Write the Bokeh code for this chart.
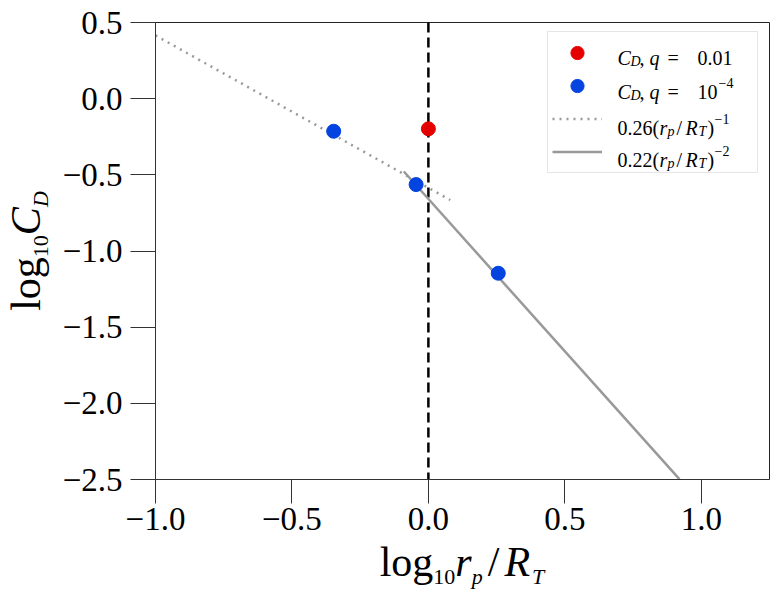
from bokeh.plotting import figure
from bokeh.models import (Range1d, FixedTicker, Span, Legend, LegendItem, Label, Div)
from bokeh.layouts import row, column
from bokeh.embed import file_html
from bokeh.resources import INLINE

# ---------------- data ----------------
x_ticks = [-1.0, -0.5, 0.0, 0.5, 1.0]
x_tick_labels = ["\u22121.0", "\u22120.5", "0.0", "0.5", "1.0"]
y_ticks = [-2.5, -2.0, -1.5, -1.0, -0.5, 0.0, 0.5]
y_tick_labels = ["\u22122.5", "\u22122.0", "\u22121.5", "\u22121.0", "\u22120.5", "0.0", "0.5"]

# C_D, q = 0.01
q001_x = [0.0]
q001_y = [-0.198]
# C_D, q = 1e-4
q1e4_x = [-0.347, -0.045, 0.256]
q1e4_y = [-0.214, -0.564, -1.146]

# 0.26 (r_p/R_T)^-1   (dotted)
fit1_x = [-1.0, 0.08]
fit1_y = [0.415, -0.665]
# 0.22 (r_p/R_T)^-2   (solid)
fit2_x = [-0.09, 0.92]
fit2_y = [-0.478, -2.498]

divider_x = 0.0

RED = "#e50000"
BLUE = "#0343df"
GRAY = "#999999"
FONT = "Liberation Serif"

YDIV_W = 50
P_W, P_H = 720, 546
XDIV_H = 46
FRAME_L = 155 - YDIV_W

p = figure(width=P_W, height=P_H, output_backend="svg", toolbar_location=None,
           x_range=Range1d(-1.0, 1.25), y_range=Range1d(-2.5, 0.5),
           min_border_left=FRAME_L, min_border_right=1, min_border_top=22,
           min_border_bottom=P_H - 22 - 457)
p.background_fill_color = "white"
p.border_fill_color = "white"
p.outline_line_color = "#222222"
p.outline_line_width = 1
p.xgrid.visible = False
p.ygrid.visible = False

p.xaxis.ticker = FixedTicker(ticks=x_ticks)
p.yaxis.ticker = FixedTicker(ticks=y_ticks)
p.xaxis.major_label_overrides = dict(zip(x_ticks, x_tick_labels))
p.yaxis.major_label_overrides = dict(zip(y_ticks, y_tick_labels))
for ax, tout, stand in ((p.xaxis[0], 24, 4), (p.yaxis[0], 25, 8)):
    ax.major_tick_in = 0
    ax.major_tick_out = tout
    ax.minor_tick_in = 0
    ax.minor_tick_out = 0
    ax.axis_line_color = "#333333"
    ax.major_tick_line_color = "#333333"
    ax.major_label_text_font = FONT
    ax.major_label_text_font_size = "33px"
    ax.major_label_text_color = "black"
    ax.major_label_standoff = stand

vline = Span(location=divider_x, dimension="height", line_color="black",
             line_width=2.5, line_dash="10 5", level="underlay")
p.add_layout(vline)

r_fit1 = p.line(fit1_x, fit1_y, line_color=GRAY, line_width=2.5, line_dash="2 5")
r_fit2 = p.line(fit2_x, fit2_y, line_color=GRAY, line_width=2.5)
r_red = p.scatter(q001_x, q001_y, size=14, color=RED, marker="circle")
r_blue = p.scatter(q1e4_x, q1e4_y, size=14, color=BLUE, marker="circle")

legend = Legend(items=[LegendItem(label=" ", renderers=[r_red]),
                       LegendItem(label=" ", renderers=[r_blue]),
                       LegendItem(label=" ", renderers=[r_fit1]),
                       LegendItem(label=" ", renderers=[r_fit2])],
                location=(392, 306))
legend.glyph_width = 50
legend.glyph_height = 33
legend.label_height = 33
legend.label_width = 135
legend.label_standoff = 16
legend.padding = 4
legend.spacing = 0
legend.margin = 0
legend.border_line_color = "#cccccc"
legend.border_line_width = 1
legend.background_fill_alpha = 0.0
legend.label_text_font_size = "10px"
p.add_layout(legend)


def txt(text, fx, fy, size, italic=False):
    lab = Label(x=fx, y=fy, x_units="screen", y_units="screen", text=text,
                text_font=FONT, text_font_size=f"{size}px",
                text_font_style="italic" if italic else "normal",
                text_baseline="alphabetic", text_align="left", text_color="black")
    p.add_layout(lab)


# legend texts
LM, LS = 20, 14
for b, tail in ((422, None), (388, "\u22124")):
    txt("C", 462, b, LM, True)
    txt("D", 475, b - 4, LS, True)
    txt(",", 484, b, LM)
    txt("q", 494, b, LM, True)
    txt("=", 512, b, LM)
    if tail is None:
        txt("0.01", 542, b, LM)
    else:
        txt("10", 542, b, LM)
        txt(tail, 563, b + 9, LS)
for b, coef, pw in ((352, "0.26", "\u22121"), (320, "0.22", "\u22122")):
    txt(coef, 462, b, LM)
    txt("(", 497, b, LM)
    txt("r", 504, b, LM, True)
    txt("p", 512, b - 4, LS, True)
    txt("/", 521, b, LM)
    txt("R", 530, b, LM, True)
    txt("T", 543, b - 4, LS, True)
    txt(")", 552, b, LM)
    txt(pw, 559, b + 9, LS)

# axis labels as HTML (with real sub/italic markup)
SUB = "font-size:22px;vertical-align:-8px;line-height:0"
base = (f"font-family:'{FONT}';font-size:42px;line-height:42px;white-space:nowrap;"
        "color:black;")
x_html = (f"<div style='position:relative;width:{P_W}px;height:{XDIV_H}px'>"
          f"<div style=\"position:absolute;left:{FRAME_L}px;top:-5px;width:614px;"
          f"text-align:center;{base}\">"
          f"log<span style='{SUB}'>10</span><i>r</i><span style='{SUB}'><i>p</i></span>"
          f"<span style='padding:0 5px'>/</span><i>R</i><span style='{SUB};padding-left:2px'><i>T</i></span>"
          "</div></div>")
y_html = (f"<div style='position:relative;width:{YDIV_W}px;height:{P_H + XDIV_H}px'>"
          f"<div style=\"position:absolute;left:-124px;top:230px;width:300px;height:42px;"
          f"text-align:center;transform:rotate(-90deg);transform-origin:center;{base}\">"
          f"log<span style='{SUB}'>10</span><i>C</i><span style='{SUB}'><i>D</i></span>"
          "</div></div>")

xdiv = Div(text=x_html, width=P_W, height=XDIV_H, margin=(0, 0, 0, 0))
ydiv = Div(text=y_html, width=YDIV_W, height=P_H + XDIV_H, margin=(0, 0, 0, 0))

layout = row(ydiv, column(p, xdiv, spacing=0), spacing=0)

open("out.html", "w").write(file_html(layout, INLINE))
